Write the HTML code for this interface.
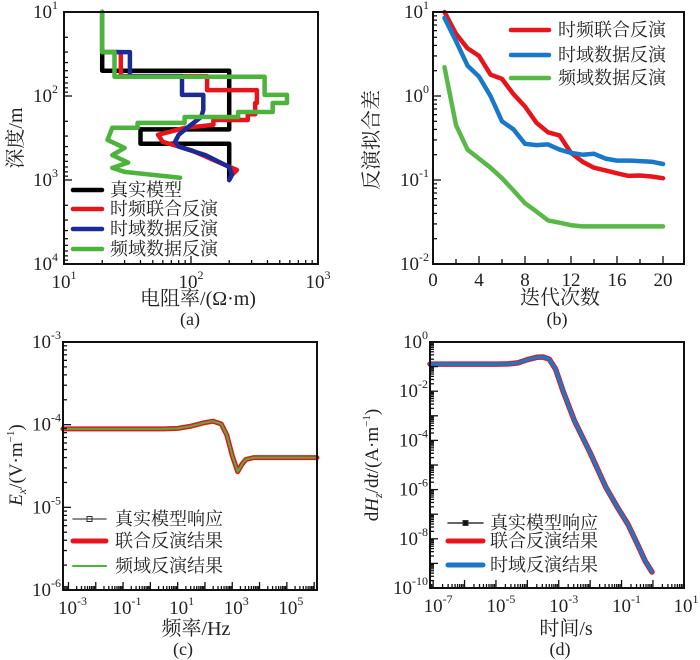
<!DOCTYPE html>
<html><head><meta charset="utf-8"><style>
body{margin:0;background:#fff}
svg{display:block;font-family:"Liberation Serif","Noto Serif CJK SC",serif}
</style></head><body>
<svg id="fig" width="700" height="660" viewBox="0 0 700 660" xmlns="http://www.w3.org/2000/svg"></svg>
<script>
// ---------- Panel (a) data ----------
const aTrueRho=[20,20,200,200,40,40,200,200];
const aTrueDep=[10,50,50,250,250,370,370,1000];
const aJointRho=[20,20,28,28,134,134,330,330,320,320,280,280,150,150,90,55,60,100,150,230,210,200];
const aJointDep=[10,30,30,58,58,85,85,121,121,165,165,193,193,220,239,290,352,440,578,760,870,1000];
const aTimeRho=[20,20,33,33,85,85,125,125,120,100,80,75,80,130,200,210,200];
const aTimeDep=[10,30,30,58,58,97,97,147,178,220,290,350,400,505,700,870,1000];
const aFreqRho=[20,20,25,25,380,380,570,570,440,440,235,235,89,89,38,38,24,22,30,24,32,24,30,82];
const aFreqDep=[10,30,30,59,59,97,97,121,121,155,155,178,178,209,209,239,239,333,415,505,620,718,800,940];
// ---------- Panel (b) data ----------
const bIter=[1,2,3,4,5,6,7,8,9,10,11,12,13,14,15,16,17,18,19,20];
const bJoint=[10,5.5,3.7,3.0,1.8,1.6,1.05,0.75,0.48,0.37,0.34,0.21,0.165,0.14,0.13,0.12,0.112,0.113,0.11,0.105];
const bTime=[8.5,4.5,2.3,1.7,1.0,0.5,0.4,0.27,0.26,0.265,0.23,0.21,0.2,0.205,0.18,0.17,0.17,0.168,0.165,0.155];
const bFreq=[2.2,0.45,0.23,0.18,0.14,0.105,0.075,0.053,0.042,0.033,0.031,0.029,0.028,0.028,0.028,0.028,0.028,0.028,0.028,0.028];
// ---------- Panel (c) data ----------
const cLogF=[-3.2,-2,-1,0,0.5,1,1.5,2,2.3,2.6,2.8,3.0,3.2,3.35,3.5,3.8,4.5,5,6.1];
const cEx=[8.9e-5,8.9e-5,8.9e-5,8.9e-5,8.9e-5,9.0e-5,9.6e-5,1.06e-4,1.1e-4,1.02e-4,7.5e-5,4.2e-5,2.7e-5,3.3e-5,3.8e-5,4.0e-5,4.0e-5,4.0e-5,4.0e-5];
// ---------- Panel (d) data ----------
const dLogT=[-7.1,-6,-5,-4.6,-4.3,-4.0,-3.7,-3.5,-3.3,-3.1,-2.86,-2.5,-2.0,-1.5,-1.14,-0.8,-0.5,-0.25,-0.03];
const dLogH=[-0.9,-0.9,-0.9,-0.89,-0.85,-0.72,-0.62,-0.61,-0.7,-1.1,-2.0,-3.2,-4.5,-5.9,-6.7,-7.4,-8.2,-8.9,-9.35];

const NS='http://www.w3.org/2000/svg';
const svg=document.getElementById('fig');
function mk(tag,attrs,parent){const e=document.createElementNS(NS,tag);for(const k in attrs)e.setAttribute(k,attrs[k]);(parent||svg).appendChild(e);return e;}
function pow10Label(g,x,y,exp,anchor){
  const t=mk('text',{x:x,y:y,'font-size':19,'text-anchor':anchor||'middle',fill:'#222'},g);
  
  
  t.appendChild(document.createTextNode('10'));
  const s=mk('tspan',{dy:-9,'font-size':12},t);s.textContent=exp;
  return t;
}
function txt(g,x,y,s,size,anchor,name,rot){
  const a={x:x,y:y,'font-size':size,'text-anchor':anchor||'start',fill:'#222'};
  if(rot)a.transform='rotate(-90 '+x+' '+y+')';
  const t=mk('text',a,g);
  
  
  t.textContent=s;return t;
}
function line(g,pts,color,w,name){
  const p=mk('polyline',{points:pts.map(p=>p[0].toFixed(1)+','+p[1].toFixed(1)).join(' '),fill:'none',stroke:color,'stroke-width':w,'stroke-linejoin':'round','stroke-linecap':'round'},g);
  
  
  return p;
}
function box(g,x0,y0,x1,y1){
  const r=mk('rect',{x:x0,y:y0,width:x1-x0,height:y1-y0,fill:'none',stroke:'#111','stroke-width':2},g);
  
  
}
function tick(g,x1,y1,x2,y2){mk('line',{x1:x1,y1:y1,x2:x2,y2:y2,stroke:'#111','stroke-width':1.3},g);}
function logTicksY(g,x0,ymap,lo,hi){
  for(let d=lo;d<hi;d++){for(let m=1;m<10;m++){const y=ymap(d+Math.log10(m));tick(g,x0,y,x0+(m==1?8:4),y);}}
}
function logTicksX(g,y0,xmap,lo,hi,xmin,xmax){
  for(let d=lo;d<=hi;d++){for(let m=1;m<10;m++){const x=xmap(d+Math.log10(m));if(x<xmin-0.5||x>xmax+0.5)continue;tick(g,x,y0,x,y0-(m==1?8:4));}}
}
function legend(g,items,x0,x1,tx){
  items.forEach(it=>{
    const l=mk('line',{x1:x0,y1:it.y,x2:x1,y2:it.y,stroke:it.c,'stroke-width':it.w,'stroke-linecap':'round'},g);
    
    
    if(it.marker){mk('rect',{x:(x0+x1)/2-2.5,y:it.y-2.5,width:5,height:5,fill:it.mfill||'none',stroke:'#333','stroke-width':1},g);}
    txt(g,tx,it.y+6,it.t,18,'start','legend-entry');
  });
}

// ===== Panel A =====
(function(){
  const g=mk('g',{});
  const X0=64,X1=318,Y0=12,Y1=264;
  const xm=lg=>X0+(lg-1)*(X1-X0)/2;
  const ym=lg=>Y0+(lg-1)*(Y1-Y0)/3;
  const pts=(r,d)=>r.map((v,i)=>[xm(Math.log10(v)),ym(Math.log10(d[i]))]);
  line(g,pts(aTrueRho,aTrueDep),'#000',4.5,'series-true-model');
  line(g,pts(aJointRho,aJointDep),'#e8141c',4.5,'series-joint-inversion');
  line(g,pts(aTimeRho,aTimeDep),'#1c2a96',4.5,'series-time-inversion');
  line(g,pts(aFreqRho,aFreqDep),'#4cb33c',4.5,'series-freq-inversion');
  box(g,X0,Y0,X1,Y1);
  logTicksY(g,X0,ym,1,4);
  logTicksX(g,Y1,xm,1,3,X0,X1);
  [1,2,3,4].forEach(e=>pow10Label(g,X0-6,ym(e)+6,e,'end'));
  [1,2,3].forEach(e=>pow10Label(g,xm(e),Y1+24,e));
  txt(g,22,138,'深度/m',20,'middle','y-axis-title',true);
  txt(g,198,305,'电阻率/(Ω·m)',20,'middle','x-axis-title');
  txt(g,190,325,'(a)',18,'middle','panel-label');
  legend(g,[{y:190,c:'#000',w:4.5,t:'真实模型'},{y:209,c:'#e8141c',w:4.5,t:'时频联合反演'},{y:229,c:'#1c2a96',w:4.5,t:'时域数据反演'},{y:249,c:'#4cb33c',w:4.5,t:'频域数据反演'}],73,102,110);
})();

// ===== Panel B =====
(function(){
  const g=mk('g',{});
  const X0=433,X1=684,Y0=12,Y1=264;
  const xm=v=>X0+v*11.5;
  const ym=lg=>Y0+(1-lg)*(Y1-Y0)/3;
  const pts=s=>s.map((v,i)=>[xm(bIter[i]),ym(Math.log10(v))]);
  line(g,pts(bJoint),'#e8141c',4.5,'series-joint-misfit');
  line(g,pts(bTime),'#1a78c8',4.5,'series-time-misfit');
  line(g,pts(bFreq),'#58b848',4.5,'series-freq-misfit');
  box(g,X0,Y0,X1,Y1);
  logTicksY(g,X0,ym,-2,1);
  for(let v=2;v<=20;v+=2)tick(g,xm(v),Y1,xm(v),Y1-(v%4==0?8:5));
  [1,0,-1,-2].forEach(e=>pow10Label(g,X0-4,ym(e)+6,e,'end'));
  [0,4,8,12,16,20].forEach(v=>txt(g,xm(v),Y1+22,String(v),19,'middle','x-tick-label'));
  txt(g,378,140,'反演拟合差',20,'middle','y-axis-title',true);
  txt(g,560,304,'迭代次数',20,'middle','x-axis-title');
  txt(g,557,325,'(b)',18,'middle','panel-label');
  legend(g,[{y:30,c:'#e8141c',w:4.5,t:'时频联合反演'},{y:55,c:'#1a78c8',w:4.5,t:'时域数据反演'},{y:78,c:'#58b848',w:4.5,t:'频域数据反演'}],511,549,558);
})();

// ===== Panel C =====
(function(){
  const g=mk('g',{});
  const X0=63,X1=317,Y0=342,Y1=590;
  const xm=lg=>X0+(lg+3.2)*27.3;
  const ym=lg=>Y0+(-3-lg)*(Y1-Y0)/3;
  const pts=cLogF.map((f,i)=>[xm(f),ym(Math.log10(cEx[i]))]);
  line(g,pts,'#e8141c',5,'series-joint-response');
  line(g,pts,'#4cb33c',2,'series-freq-response');
  box(g,X0,Y0,X1,Y1);
  logTicksY(g,X0,ym,-6,-3);
  logTicksX(g,Y1,xm,-4,6,X0,X1);
  [-3,-4,-5,-6].forEach(e=>pow10Label(g,X0-2,ym(e)+6,e,'end'));
  [-3,-1,1,3,5].forEach(e=>pow10Label(g,xm(e)+4,Y1+24,e));
  const t=txt(g,22,465,'',19,'middle','y-axis-title',true);
  const e1=mk('tspan',{'font-style':'italic'},t);e1.textContent='E';
  const e2=mk('tspan',{'font-style':'italic','font-size':12,dy:4},t);e2.textContent='x';
  const e3=mk('tspan',{dy:-4},t);e3.textContent='/(V·m';
  const e4=mk('tspan',{dy:-8,'font-size':11},t);e4.textContent='−1';
  const e5=mk('tspan',{dy:8},t);e5.textContent=')';
  txt(g,196,635,'频率/Hz',20,'middle','x-axis-title');
  txt(g,183,655,'(c)',18,'middle','panel-label');
  legend(g,[{y:519,c:'#666',w:1.5,t:'真实模型响应',marker:true},{y:541,c:'#e8141c',w:5,t:'联合反演结果'},{y:566,c:'#4cb33c',w:2,t:'频域反演结果'}],73,106,115);
})();

// ===== Panel D =====
(function(){
  const g=mk('g',{});
  const X0=430,X1=684,Y0=342,Y1=588;
  const xm=lg=>X0+(lg+7.1)*31.4;
  const ym=lg=>Y0+(-lg)*(Y1-Y0)/10;
  const pts=dLogT.map((t,i)=>[xm(t),ym(dLogH[i])]);
  line(g,pts,'#e8141c',5.5,'series-joint-response');
  line(g,pts,'#1a78c8',3.5,'series-time-response');
  box(g,X0,Y0,X1,Y1);
  logTicksY(g,X0,ym,-10,0);
  logTicksX(g,Y1,xm,-8,1,X0,X1);
  [0,-2,-4,-6,-8,-10].forEach(e=>pow10Label(g,X0-2,ym(e)+6,e,'end'));
  [-7,-5,-3,-1,1].forEach(e=>pow10Label(g,Math.min(xm(e)+5,686),Y1+24,e));
  const t=txt(g,378,465,'',19,'middle','y-axis-title',true);
  const a=mk('tspan',{},t);a.textContent='d';
  const b=mk('tspan',{'font-style':'italic'},t);b.textContent='H';
  const c=mk('tspan',{'font-style':'italic','font-size':12,dy:4},t);c.textContent='z';
  const d=mk('tspan',{dy:-4},t);d.textContent='/d';
  const e=mk('tspan',{'font-style':'italic'},t);e.textContent='t';
  const f=mk('tspan',{},t);f.textContent='/(A·m';
  const h=mk('tspan',{dy:-8,'font-size':11},t);h.textContent='−1';
  const k=mk('tspan',{dy:8},t);k.textContent=')';
  txt(g,566,635,'时间/s',20,'middle','x-axis-title');
  txt(g,560,655,'(d)',18,'middle','panel-label');
  legend(g,[{y:523,c:'#333',w:1.5,t:'真实模型响应',marker:true,mfill:'#111'},{y:541,c:'#e8141c',w:5,t:'联合反演结果'},{y:565,c:'#1a78c8',w:5,t:'时域反演结果'}],448,483,490);
})();
</script>
</body></html>
